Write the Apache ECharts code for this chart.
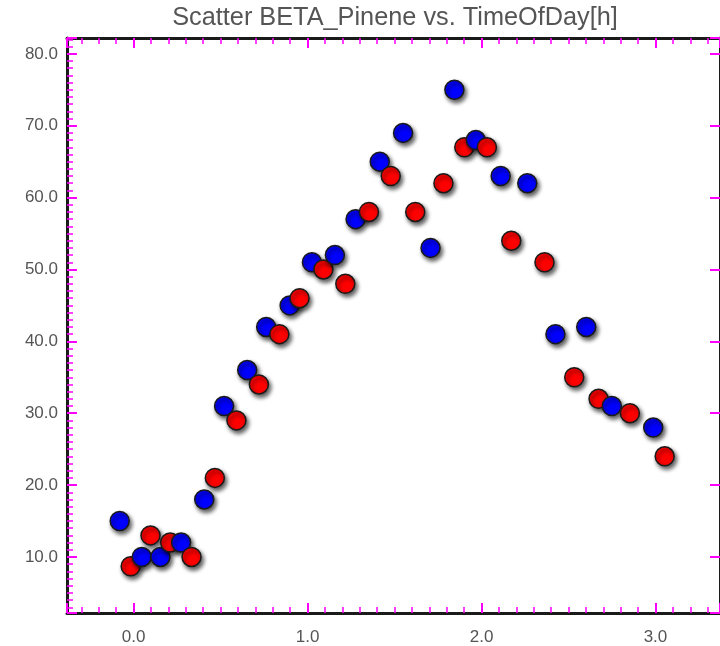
<!DOCTYPE html>
<html>
<head>
<meta charset="utf-8">
<script src="https://cdn.jsdelivr.net/npm/echarts@6/dist/echarts.min.js"></script>
<style>html,body{margin:0;padding:0;background:#fff}#c{width:720px;height:646px}</style>
</head>
<body>
<div id="c"></div>
<script>
const titleText = 'Scatter BETA_Pinene vs. TimeOfDay[h]';
const blueTime = [-0.080, 0.047, 0.154, 0.273, 0.406, 0.520, 0.653, 0.762, 0.897, 1.025, 1.157, 1.276, 1.415, 1.549, 1.707, 1.844, 1.967, 2.110, 2.263, 2.425, 2.602, 2.749, 2.987];
const blueValue = [15, 10, 10, 12, 18, 31, 36, 42, 45, 51, 52, 57, 65, 69, 53, 75, 68, 63, 62, 41, 42, 31, 28];
const redTime = [-0.017, 0.097, 0.210, 0.333, 0.467, 0.591, 0.720, 0.838, 0.954, 1.091, 1.217, 1.353, 1.478, 1.619, 1.781, 1.901, 2.031, 2.171, 2.362, 2.533, 2.673, 2.853, 3.053];
const redValue = [8.7, 13, 12, 10, 21, 29, 34, 41, 46, 50, 48, 58, 63, 58, 62, 67, 67, 54, 51, 35, 32, 30, 24];
const xTickLabels = ['0.0', '1.0', '2.0', '3.0'];
const yTickLabels = ['10.0', '20.0', '30.0', '40.0', '50.0', '60.0', '70.0', '80.0'];
const X_MIN = -0.383, X_MAX = 3.371, Y_MIN = 2.2, Y_MAX = 82.2;

const BLUE = '#0000ff', RED = '#ff0000';
const pts = [];
blueTime.forEach((t, i) => pts.push({ value: [t, blueValue[i]], itemStyle: { color: BLUE } }));
redTime.forEach((t, i) => pts.push({ value: [t, redValue[i]], itemStyle: { color: RED } }));
pts.sort((a, b) => a.value[0] - b.value[0]);

const labelFont = { color: '#555', fontSize: 17, fontFamily: 'Liberation Sans, Arial, sans-serif' };
const TICK = '#ff00ff';

function fmt(list) {
  return function (v) {
    const s = Number(v).toFixed(1);
    return list.indexOf(s) >= 0 ? s : '';
  };
}

function axis(kind, pos, showLabel, showMinor, majorLen) {
  const isX = kind === 'x';
  const step = isX ? 1 : 10;
  return {
    type: 'value', position: pos,
    min: isX ? X_MIN : Y_MIN, max: isX ? X_MAX : Y_MAX,
    splitNumber: isX ? 4 : 8, minInterval: step, maxInterval: step,
    axisLine: { show: true, onZero: false, lineStyle: { color: '#1a1a1a', width: 3 } },
    axisTick: { show: true, inside: true, length: majorLen, lineStyle: { color: TICK, width: 2 } },
    minorTick: { show: showMinor, splitNumber: 10, length: 6, lineStyle: { color: TICK, width: 1.5 } },
    splitLine: { show: false },
    minorSplitLine: { show: false },
    axisLabel: Object.assign({
      show: showLabel, margin: isX ? 16 : 9, showMinLabel: false, showMaxLabel: false,
      formatter: fmt(isX ? xTickLabels : yTickLabels)
    }, labelFont)
  };
}

const chart = echarts.init(document.getElementById('c'), null, { renderer: 'canvas' });
chart.setOption({
  animation: false,
  backgroundColor: '#ffffff',
  title: {
    text: titleText, left: 395, top: 6, textAlign: 'center', padding: 0,
    textStyle: { color: '#555', fontSize: 25.3, fontWeight: 'normal', fontFamily: 'Liberation Sans, Arial, sans-serif' }
  },
  grid: { left: 67, top: 38, right: -4, bottom: 33, containLabel: false },
  xAxis: [axis('x', 'bottom', true, true, 10), axis('x', 'top', false, true, 10)],
  yAxis: [axis('y', 'left', true, true, 10), axis('y', 'right', false, false, 10)],
  series: [{
    type: 'scatter', xAxisIndex: 0, yAxisIndex: 0,
    symbol: 'circle', symbolSize: 19,
    itemStyle: { borderColor: '#1a1a1a', borderWidth: 1.5, shadowBlur: 4, shadowColor: 'rgba(0,0,0,0.65)', shadowOffsetX: 2, shadowOffsetY: 3, opacity: 1 },
    data: pts
  }]
});
</script>
</body>
</html>
